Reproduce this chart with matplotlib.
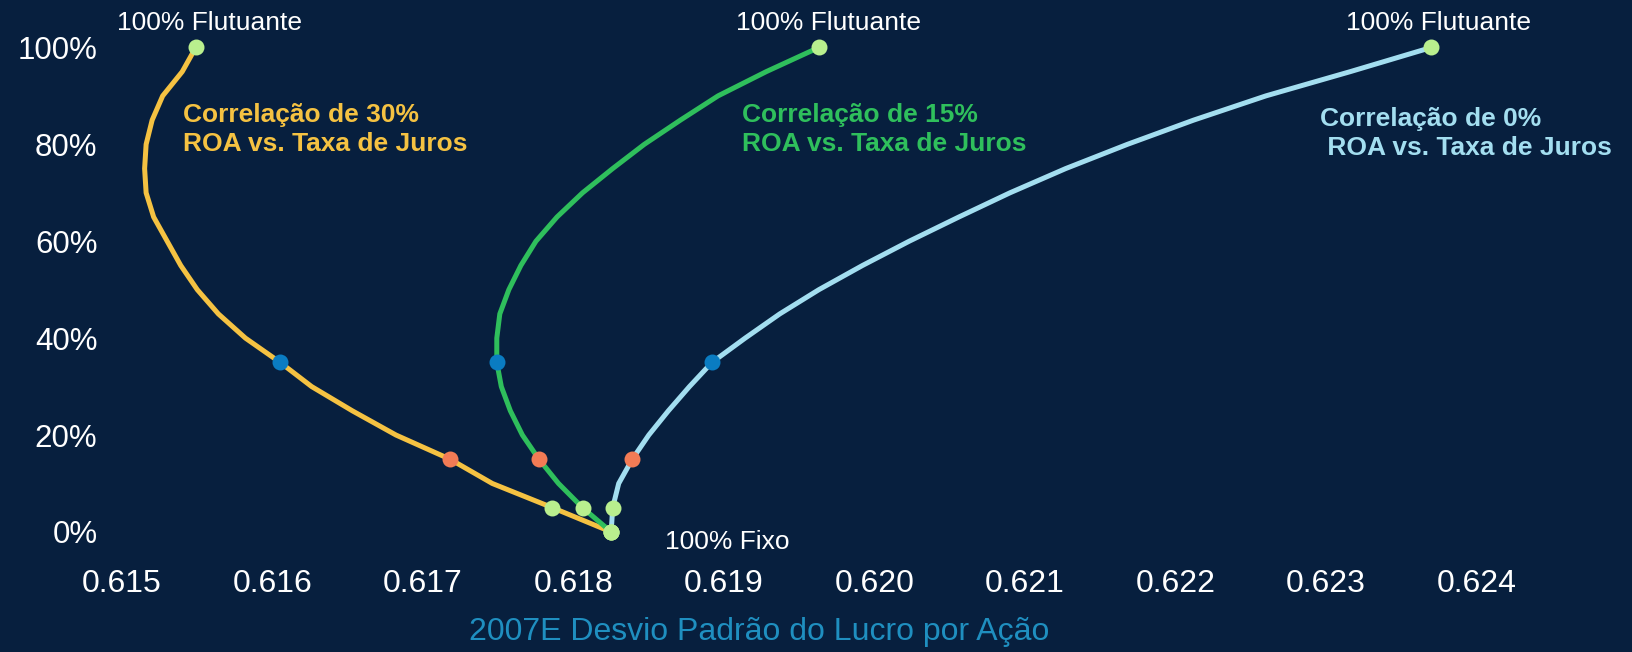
# fronteira: % flutuante vs desvio padrao do LPA, para 3 correlacoes
import matplotlib
matplotlib.use("Agg")
from matplotlib import pyplot as plt

# pct da divida flutuante (eixo y)
pct_flutuante = [0, 5, 10, 15, 20, 25, 30, 35, 40, 45, 50,
                 55, 60, 65, 70, 75, 80, 85, 90, 95, 100]

# desvio padrao do lucro por acao, por correlacao
desvio_30 = [0.61825, 0.61786, 0.61746, 0.61718, 0.61682, 0.61653, 0.61626,
             0.61605, 0.61582, 0.61564, 0.61550, 0.61539, 0.61530, 0.61521,
             0.61516, 0.61515, 0.61516, 0.61520, 0.61527, 0.61540, 0.61549]
desvio_15 = [0.61825, 0.61806, 0.61790, 0.61777, 0.61766, 0.61758, 0.61752,
             0.61749, 0.61749, 0.61751, 0.61757, 0.61765, 0.61775, 0.61789,
             0.61806, 0.61826, 0.61847, 0.61871, 0.61896, 0.61928, 0.61963]
desvio_0 = [0.61825, 0.61826, 0.61830, 0.61839, 0.61850, 0.61863, 0.61877,
            0.61892, 0.61914, 0.61937, 0.61963, 0.61992, 0.62023, 0.62056,
            0.62090, 0.62127, 0.62168, 0.62212, 0.62260, 0.62316, 0.62370]

rotulos = ["Correlação de 30%\nROA vs. Taxa de Juros",
           "Correlação de 15%\nROA vs. Taxa de Juros",
           "Correlação de 0%\n ROA vs. Taxa de Juros"]
xticks = [0.615, 0.616, 0.617, 0.618, 0.619, 0.620, 0.621, 0.622, 0.623, 0.624]
yticks = [0, 20, 40, 60, 80, 100]

fundo = "#071f3e"
cores = ["#f5c242", "#2fbf5c", "#a3def0"]
verde_claro = "#b9ef8e"
vermelho = "#f27b55"
azul = "#0a7cc2"

plt.rcParams["font.family"] = ["Liberation Sans", "DejaVu Sans"]

fig = plt.figure(figsize=(16.32, 6.52), dpi=100, facecolor=fundo)
ax = fig.add_axes([110 / 1632, 1 - 545 / 652, 1490 / 1632, 515 / 652])
ax.set_facecolor(fundo)

series = [desvio_30, desvio_15, desvio_0]
pos_rotulo = [(0.615405, 83.1), (0.619118, 83.1), (0.622962, 82.2)]
desloc_flut = [14, 10, 7]

for xs, cor, txt, pos, dx in zip(series, cores, rotulos, pos_rotulo, desloc_flut):
    ax.plot(xs, pct_flutuante, color=cor, lw=3.6, zorder=2, solid_capstyle="round")
    # pontos marcados: 5%, 15%, 35% e extremos
    i5 = pct_flutuante.index(5)
    i15 = pct_flutuante.index(15)
    i35 = pct_flutuante.index(35)
    ax.plot([xs[i5], xs[0], xs[-1]], [5, 0, 100], "o", color=verde_claro,
            ms=11.5, mec="none", zorder=3)
    ax.plot(xs[i15], 15, "o", color=vermelho, ms=11.5, mec="none", zorder=3)
    ax.plot(xs[i35], 35, "o", color=azul, ms=11.5, mec="none", zorder=3)
    ax.text(pos[0], pos[1], txt, color=cor, fontsize=19, fontweight="bold",
            ha="left", va="center", linespacing=1.29)
    ax.annotate("100% Flutuante", (xs[-1], 100), xytext=(dx, 24),
                textcoords="offset pixels", ha="center", va="center",
                color="white", fontsize=19, annotation_clip=False)

ax.annotate("100% Fixo", (desvio_0[0], 0), xytext=(54, -10),
            textcoords="offset pixels", ha="left", va="center",
            color="white", fontsize=19)

ax.set_xlim(0.61492, 0.62482)
ax.set_ylim(-2.7, 103.6)
ax.set_xticks(xticks)
ax.set_xticklabels(["%.3f" % v for v in xticks])
ax.set_yticks(yticks)
ax.set_yticklabels(["%d%%" % v for v in yticks])
ax.tick_params(length=0, colors="white")
ax.tick_params(axis="x", pad=17.5, labelsize=23)
ax.tick_params(axis="y", pad=9, labelsize=22.5)
for s in ax.spines.values():
    s.set_visible(False)

ax.set_xlabel("2007E Desvio Padrão do Lucro por Ação", color="#1f8fc0",
              fontsize=23)
ax.xaxis.set_label_coords((759 - 110) / 1490, -(632 - 545) / 515)
ax.xaxis.label.set_va("center")

fig.savefig("out.png", dpi=100, facecolor=fundo)
